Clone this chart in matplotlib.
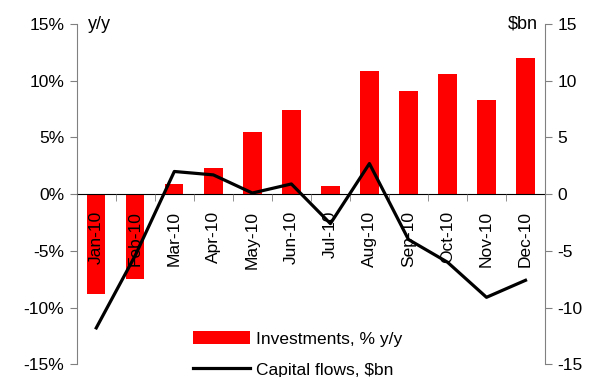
import matplotlib
matplotlib.use("Agg")
import matplotlib.pyplot as plt
from matplotlib.ticker import FuncFormatter, FixedLocator

plt.rcParams['font.family'] = ['Liberation Sans', 'DejaVu Sans']

# data
months = ['Jan-10', 'Feb-10', 'Mar-10', 'Apr-10', 'May-10', 'Jun-10',
          'Jul-10', 'Aug-10', 'Sep-10', 'Oct-10', 'Nov-10', 'Dec-10']
investments = [-8.8, -7.5, 0.9, 2.3, 5.5, 7.4, 0.7, 10.9, 9.1, 10.6, 8.3, 12.0]
capital_flows = [-11.8, -5.4, 2.0, 1.7, 0.1, 0.9, -2.6, 2.7, -4.0, -6.0, -9.1, -7.6]

fig = plt.figure(figsize=(5.95, 3.77), dpi=100)
ax = fig.add_axes([0.129, 0.034, 0.787, 0.902])
ax.set_axisbelow(False)  # month labels drawn over the bars
x = list(range(len(months)))

bars = ax.bar(x, investments, width=0.47, color='#FF0000', zorder=1,
              label='Investments, % y/y')
ax.set_xlim(-0.5, 11.5)
ax.set_ylim(-15, 15)
ax.set_yticks([-15, -10, -5, 0, 5, 10, 15])
ax.yaxis.set_major_formatter(FuncFormatter(lambda v, p: f"{v:.0f}%"))

# category axis sits on the zero line
ax.spines['bottom'].set_position(('data', 0))
ax.spines['bottom'].set_color('black')
ax.spines['top'].set_visible(False)
ax.spines['right'].set_visible(False)
ax.spines['left'].set_color('#808080')
ax.set_xticks(x)
ax.set_xticklabels(months, rotation=90, va='top', ha='center')
ax.xaxis.set_minor_locator(FixedLocator([i + 0.5 for i in range(-1, 12)]))
ax.tick_params(axis='x', which='major', length=0, pad=12, labelsize=12.5)
ax.tick_params(axis='x', which='minor', length=5, direction='out', color='#808080')
ax.tick_params(axis='y', length=5, color='#808080', labelsize=12.5, pad=4)

ax2 = ax.twinx()
line, = ax2.plot(x, capital_flows, color='black', lw=2.3, zorder=4,
                 label='Capital flows, $bn')
ax2.set_ylim(-15, 15)
ax2.set_yticks([-15, -10, -5, 0, 5, 10, 15])
ax2.yaxis.set_major_formatter(FuncFormatter(lambda v, p: f"{v:.0f}"))
for s in ['top', 'left', 'bottom']:
    ax2.spines[s].set_visible(False)
ax2.spines['right'].set_color('#808080')
ax2.tick_params(axis='y', length=5, color='#808080', labelsize=12.5, pad=4)

ax.text(0.024, 1.0, 'y/y', transform=ax.transAxes, fontsize=13,
        va='center', ha='left')
ax2.text(0.985, 1.0, '$bn', transform=ax2.transAxes, fontsize=13,
         va='center', ha='right')

leg = ax2.legend([bars, line], ['Investments, % y/y', 'Capital flows, $bn'],
                 loc='lower left', bbox_to_anchor=(0.313, -0.02),
                 bbox_transform=fig.transFigure, frameon=False,
                 fontsize=12.5, handlelength=3.3, handleheight=0.75,
                 labelspacing=0.9, handletextpad=0.3, borderaxespad=0)

fig.savefig('out.png', dpi=100)
